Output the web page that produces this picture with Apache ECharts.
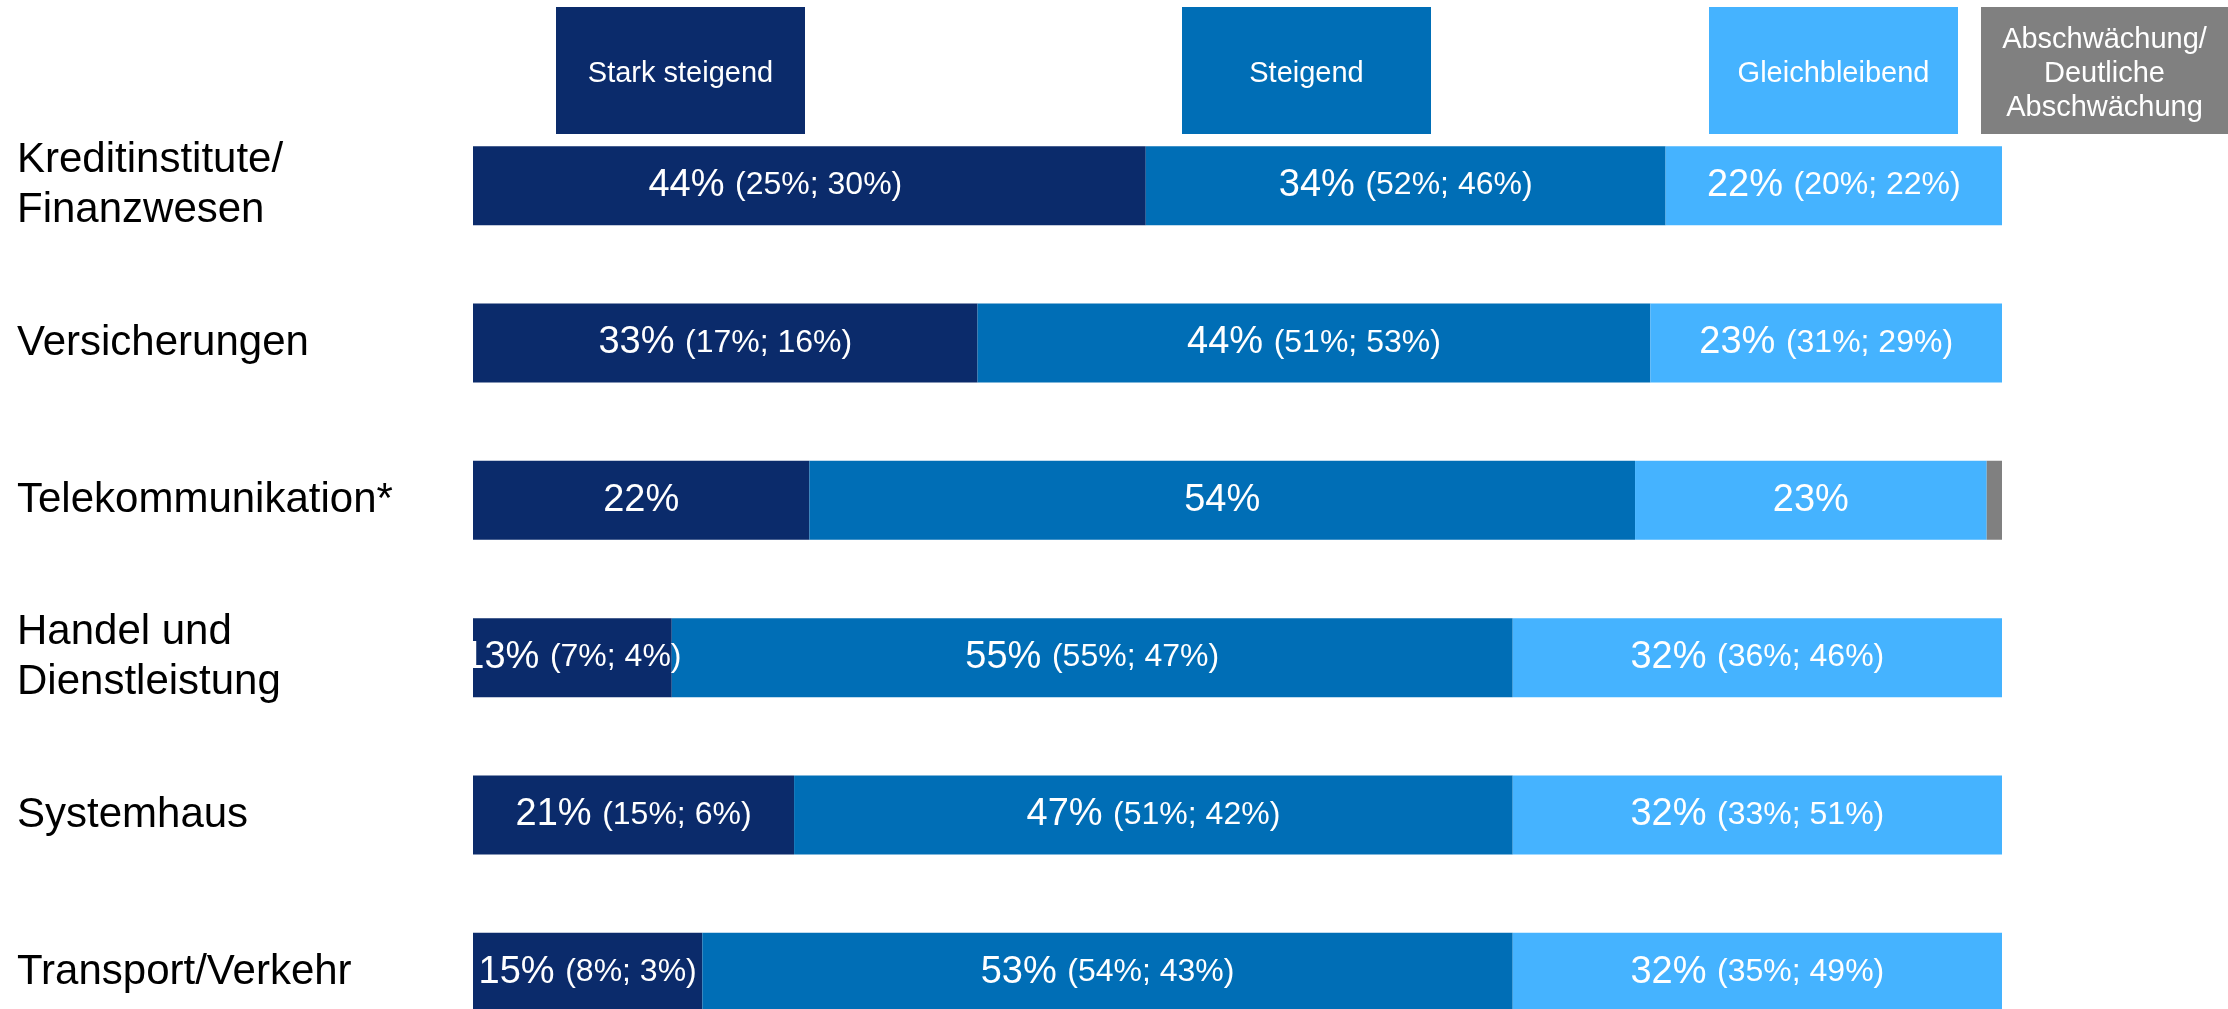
<!DOCTYPE html>
<html>
<head>
<meta charset="utf-8">
<script src="https://cdn.jsdelivr.net/npm/echarts@6/dist/echarts.min.js"></script>
<style>
  html, body { margin: 0; padding: 0; background: #fff; overflow: hidden; }
  /* etwas höher als das Fenster: die letzte Zeile ist im Original unten angeschnitten */
  #main { width: 2228px; height: 1051px; }
</style>
</head>
<body>
<div id="main"></div>
<script>
// Branchen (von oben nach unten)
var categories = ['Kreditinstitute/\nFinanzwesen', 'Versicherungen', 'Telekommunikation*',
  'Handel und\nDienstleistung', 'Systemhaus', 'Transport/Verkehr'];

var seriesNames = ['Stark steigend', 'Steigend', 'Gleichbleibend', 'Abschwächung/\nDeutliche\nAbschwächung'];

// aktueller Wert und Vorjahreswerte (in Klammern)
var starkSteigend = [44, 33, 22, 13, 21, 15];
var starkPrev1 = [25, 17, null, 7, 15, 8];
var starkPrev2 = [30, 16, null, 4, 6, 3];

var steigend = [34, 44, 54, 55, 47, 53];
var steigendPrev1 = [52, 51, null, 55, 51, 54];
var steigendPrev2 = [46, 53, null, 47, 42, 43];

var gleich = [22, 23, 23, 32, 32, 32];
var gleichPrev1 = [20, 31, null, 36, 33, 35];
var gleichPrev2 = [22, 29, null, 46, 51, 49];

var abschwaechung = [0, 0, 1, 0, 0, 0];

var colors = ['#0b2b6b', '#006eb6', '#45b3ff', '#808080'];
var FONT = '"Liberation Sans", Arial, Helvetica, sans-serif';

function makeLabel(prev1, prev2) {
  return {
    show: true,
    position: 'inside',
    formatter: function (p) {
      var i = p.dataIndex;
      if (prev1[i] == null) return '{a|' + p.value + '%}';
      return '{a|' + p.value + '% }{b|(' + prev1[i] + '%; ' + prev2[i] + '%)}';
    },
    rich: {
      a: { color: '#fff', fontSize: 38, fontFamily: FONT },
      b: { color: '#fff', fontSize: 32, fontFamily: FONT }
    }
  };
}

function barSeries(name, data, color, label) {
  return {
    name: name,
    type: 'bar',
    stack: 'total',
    data: data,
    barWidth: 79,
    itemStyle: { color: color },
    label: label,
    emphasis: { disabled: true },
    animation: false
  };
}

// im Original sitzt das erste Label etwas links der Mitte
var firstSeriesData = starkSteigend.map(function (v, i) {
  return i === 0 ? { value: v, label: { offset: [-34, 0] } } : v;
});

// Legenden-Kästchen oben
var boxLeft = [556, 1182, 1709, 1981];
var boxWidth = [249, 249, 249, 247];
var graphics = seriesNames.map(function (n, i) {
  return {
    type: 'rect',
    left: boxLeft[i],
    top: 7,
    shape: { width: boxWidth[i], height: 127 },
    style: { fill: colors[i] },
    textContent: {
      style: {
        text: n, fill: '#fff', font: '29px ' + FONT,
        align: 'center', lineHeight: 34
      }
    },
    textConfig: { position: 'inside', offset: [0, 3] }
  };
});

var chart = echarts.init(document.getElementById('main'));
chart.setOption({
  animation: false,
  grid: { left: 473, width: 1529, top: 107, bottom: 0, containLabel: false },
  xAxis: {
    type: 'value', min: 0, max: 100, show: false
  },
  yAxis: {
    type: 'category',
    data: categories,
    inverse: true,
    axisLine: { show: false },
    axisTick: { show: false },
    axisLabel: {
      align: 'left',
      margin: 456,
      color: '#000',
      fontSize: 42,
      lineHeight: 50,
      fontFamily: FONT
    }
  },
  graphic: graphics,
  series: [
    barSeries(seriesNames[0], firstSeriesData, colors[0], makeLabel(starkPrev1, starkPrev2)),
    barSeries(seriesNames[1], steigend, colors[1], makeLabel(steigendPrev1, steigendPrev2)),
    barSeries(seriesNames[2], gleich, colors[2], makeLabel(gleichPrev1, gleichPrev2)),
    barSeries(seriesNames[3], abschwaechung, colors[3], { show: false })
  ]
});
</script>
</body>
</html>
